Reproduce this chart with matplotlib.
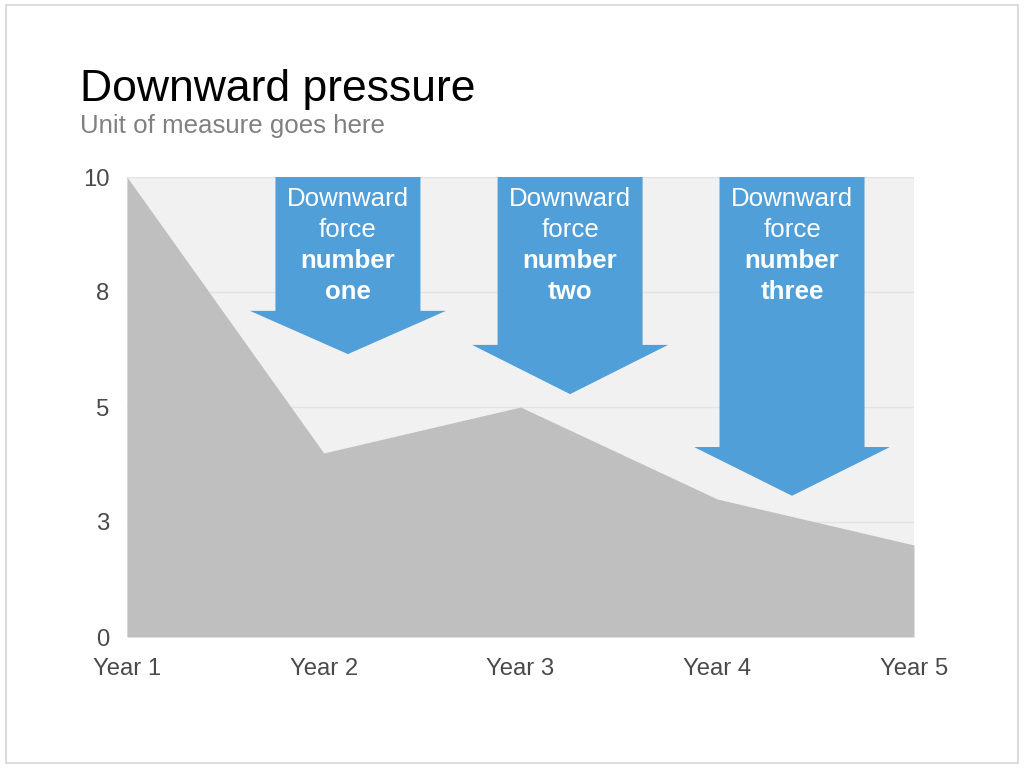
"""Downward pressure: area chart with three downward-force arrows."""

import matplotlib

matplotlib.use("Agg")
import matplotlib.pyplot as plt
from matplotlib.patches import Rectangle

years = ["Year 1", "Year 2", "Year 3", "Year 4", "Year 5"]
values = [10.0, 4.0, 5.0, 3.0, 2.0]
y_ticks = [0, 2.5, 5, 7.5, 10]
y_tick_labels = ["0", "3", "5", "8", "10"]

# arrow annotations (x in year index units, y in data units)
arrow_centers = [1.123, 2.252, 3.380]
arrow_shaft_bottoms = [7.09, 6.35, 4.13]
arrow_tips = [6.15, 5.28, 3.07]
arrow_labels = ["one", "two", "three"]

FONT = "Liberation Sans"
AREA = "#bfbfbf"
BG = "#f1f1f1"
GRID = "#e3e3e3"
BLUE = "#519fd9"
TICK = "#4a4a4a"

plt.rcParams["font.family"] = [FONT, "DejaVu Sans"]

fig = plt.figure(figsize=(10.24, 7.68), dpi=100)
fig.patch.set_facecolor("white")
fig.patches.append(
    Rectangle((6 / 1024, 5 / 768), 1012 / 1024, 758 / 768, transform=fig.transFigure,
              fill=False, edgecolor="#dcdcdc", linewidth=1.5)
)

ax = fig.add_axes([127 / 1024, (768 - 637) / 768, 787 / 1024, 460 / 768])
ax.set_facecolor(BG)

x = list(range(len(years)))
ax.fill_between(x, values, 0, color=AREA, linewidth=0, zorder=2)

shaft_half = 0.3685
head_half = 0.498
for cx, sb, tip, lab in zip(arrow_centers, arrow_shaft_bottoms, arrow_tips, arrow_labels):
    xs = [cx - shaft_half, cx + shaft_half, cx + shaft_half, cx + head_half,
          cx, cx - head_half, cx - shaft_half]
    ys = [10, 10, sb, sb, tip, sb, sb]
    ax.fill(xs, ys, color=BLUE, linewidth=0, zorder=3)
    lines = [("Downward", "normal"), ("force", "normal"), ("number", "bold"), (lab, "bold")]
    for i, (txt, wt) in enumerate(lines):
        ax.annotate(txt, xy=(cx, 10), xycoords="data", xytext=(0, -21.2 - 22.3 * i),
                    textcoords="offset points", ha="center", va="baseline",
                    color="white", fontsize=18.6, fontweight=wt, zorder=4)

ax.set_xlim(0, 4)
ax.set_ylim(0, 10)
ax.set_xticks(x)
ax.set_xticklabels(years)
ax.set_yticks(y_ticks)
ax.set_yticklabels(y_tick_labels)
ax.tick_params(axis="both", length=0, labelsize=17.2, labelcolor=TICK)
ax.tick_params(axis="y", pad=12.5)
ax.tick_params(axis="x", pad=15)
ax.grid(axis="y", color=GRID, linewidth=1)
ax.set_axisbelow(True)
for s in ax.spines.values():
    s.set_visible(False)

fig.text(80 / 1024, 1 - 101 / 768, "Downward pressure", fontsize=32, color="black",
         ha="left", va="baseline")
fig.text(80 / 1024, 1 - 133 / 768, "Unit of measure goes here", fontsize=18.6,
         color="#808080", ha="left", va="baseline")

fig.savefig("out.png", dpi=100)
